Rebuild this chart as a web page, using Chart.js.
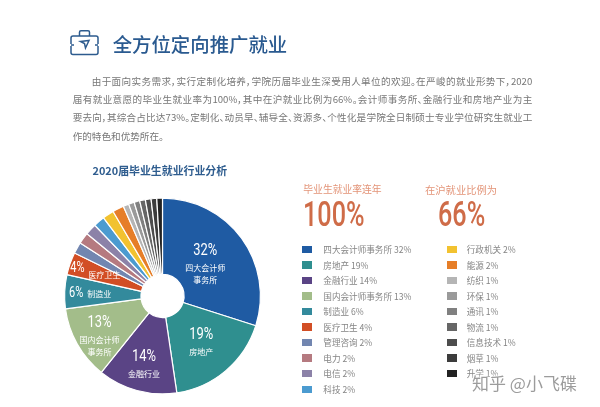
<!DOCTYPE html>
<html lang="zh">
<head>
<meta charset="utf-8">
<script src="https://cdn.jsdelivr.net/npm/chart.js@4/dist/chart.umd.min.js"></script>
<style>
  html, body { margin: 0; padding: 0; background: #fff; }
  body { width: 600px; height: 407px; overflow: hidden; position: relative; font-family: "Noto Sans CJK SC", sans-serif; }
  #pie-wrap { position: absolute; left: 0; top: 0; width: 600px; height: 407px; }
  .t { position: absolute; white-space: nowrap; line-height: 1; }
  .line { color: #777; font-size: 9.6px; font-feature-settings: "palt"; text-align: justify; text-align-last: justify; white-space: normal; }
  .big { color: #cf6c48; font-family: Roboto, sans-serif; font-weight: 500; font-size: 35px; transform: scaleX(.72); transform-origin: left center; }
  .small { color: #e39478; font-size: 9.8px; }
  .swatch { position: absolute; width: 10.8px; height: 7.5px; }
  .legend-text { color: #858585; font-size: 8.6px; }
  #mark { color: #9c9c9c; font-size: 17px; text-shadow: 0 0 2px #fff, 0 0 3px #fff, 0 0 4px #fff; }
</style>
</head>
<body>
<div id="pie-wrap"><canvas id="pie"></canvas></div>

<svg style="position:absolute;left:69px;top:29px" width="31" height="27" fill="none" stroke="#2d5b8e" stroke-width="1.5">
  <rect x="2" y="7" width="27" height="18.5" rx="2"/>
  <path d="M10.5 7V3.2a1.5 1.5 0 0 1 1.5-1.5h7a1.5 1.5 0 0 1 1.5 1.5V7"/>
  <path d="M1 16h4M26 16h4" stroke="#fff" stroke-width="2"/>
  <path d="M2 16h3M26 16h3"/>
  <path d="M11.5 12.5l8.5-1-3.5 7.5-1-4.5z"/>
</svg>
<div class="t" style="left:112.7px;top:34px;font-size:19.4px;font-weight:500;color:#2a5a90">全方位定向推广就业</div>

<div class="t line" style="left:91.7px;top:77px;width:440.6px">由于面向实务需求，实行定制化培养，学院历届毕业生深受用人单位的欢迎。在严峻的就业形势下，2020</div>
<div class="t line" style="left:72.7px;top:95.2px;width:459.6px">届有就业意愿的毕业生就业率为100%，其中在沪就业比例为66%。会计师事务所、金融行业和房地产业为主</div>
<div class="t line" style="left:72.7px;top:113.2px;width:459.6px">要去向，其综合占比达73%。定制化、动员早、辅导全、资源多、个性化是学院全日制硕士专业学位研究生就业工</div>
<div class="t line" style="left:72.7px;top:132px;font-feature-settings:normal;text-align-last:left;white-space:nowrap">作的特色和优势所在。</div>

<div class="t" style="left:92.5px;top:165px;font-size:10.9px;font-weight:700;color:#2f5d8f">2020届毕业生就业行业分析</div>

<div class="t small" style="left:303.3px;top:185.2px">毕业生就业率连年</div>
<div class="t small" style="left:425px;top:185.2px;font-size:10.3px">在沪就业比例为</div>
<div class="t big" style="left:303px;top:197px">100%</div>
<div class="t big" style="left:438px;top:197px">66%</div>

<div id="legend"></div>
<div class="t" id="mark" style="left:472px;top:374px">知乎 @小飞碟</div>

<script>
const categories = ['四大会计师事务所', '房地产', '金融行业', '国内会计师事务所', '制造业', '医疗卫生', '管理咨询', '电力', '电信', '科技', '行政机关', '能源', '纺织', '环保', '通讯', '物流', '信息技术', '烟草', '升学'];
const values = [32, 19, 14, 13, 6, 4, 2, 2, 2, 2, 2, 2, 1, 1, 1, 1, 1, 1, 1];
const colors = ['#1f5ba3', '#2f8f8f', '#5a4485', '#a3bd8a', '#338a9c', '#d24e25', '#7286b0', '#b57a80', '#8c82a8', '#4b9bd0', '#f2c230', '#e67e28', '#b5b5b5', '#9a9a9a', '#808080', '#666666', '#4d4d4d', '#3c3c3c', '#222222'];
const sliceNames = [['四大会计师', '事务所'], ['房地产'], ['金融行业'], ['国内会计师', '事务所'], ['制造业'], ['医疗卫生']];
const labelDist = [0.54, 0.61, 0.72, 0.74, 0.76, 0.77];
const labelShiftY = [1, 1, 1, 6, 1, 0];

// legend, two columns
const legend = document.getElementById('legend');
categories.forEach((name, i) => {
  const col = i < 10 ? 0 : 1;
  const row = i < 10 ? i : i - 10;
  const y = 249.3 + row * 15.55;
  legend.innerHTML += `<div class="swatch" style="left:${col ? 446.5 : 301.5}px;top:${y - 3.75}px;background:${colors[i]}"></div>` +
    `<div class="t legend-text" style="left:${col ? 466.7 : 323.3}px;top:${y - 4.3}px">${name} ${values[i]}%</div>`;
});

// percent and name inside the big slices
const sliceLabels = {
  id: 'sliceLabels',
  afterDatasetsDraw(chart) {
    const ctx = chart.ctx;
    const arcs = chart.getDatasetMeta(0).data;
    sliceNames.forEach((lines, i) => {
      const a = arcs[i];
      const mid = (a.startAngle + a.endAngle) / 2;
      const x = a.x + Math.cos(mid) * a.outerRadius * labelDist[i];
      const y = a.y + Math.sin(mid) * a.outerRadius * labelDist[i] + labelShiftY[i];
      ctx.save();
      ctx.fillStyle = '#fff';
      ctx.textAlign = 'center';
      ctx.textBaseline = 'middle';
      const pct = values[i] + '%';
      const pctSize = i < 4 ? 17 : 14.5;
      ctx.font = `${pctSize}px Roboto`;
      if (i >= 4) {
        // small slices: percent on the left, name beside it
        ctx.save();
        ctx.translate(x - (i === 4 ? 12 : 14), y + (i === 4 ? 0 : -3));
        ctx.scale(0.76, 1);
        ctx.fillText(pct, 0, 0);
        ctx.restore();
        ctx.font = '8px "Noto Sans CJK SC"';
        ctx.fillText(lines[0], x + (i === 4 ? 11 : 13), y + (i === 4 ? 0 : 4));
      } else {
        const top = y - (lines.length === 2 ? 15 : 8);
        ctx.save();
        ctx.translate(x, top);
        ctx.scale(0.76, 1);
        ctx.fillText(pct, 0, 0);
        ctx.restore();
        ctx.font = '8px "Noto Sans CJK SC"';
        lines.forEach((s, k) => ctx.fillText(s, x, top + 17 + k * 12));
      }
      ctx.restore();
    });
  }
};

new Chart(document.getElementById('pie'), {
  type: 'doughnut',
  data: {
    labels: categories,
    datasets: [{
      data: values,
      backgroundColor: colors,
      borderColor: '#fff',
      borderWidth: 1.2
    }]
  },
  options: {
    responsive: true,
    maintainAspectRatio: false,
    animation: false,
    cutout: '22%',
    layout: { padding: { left: 64, right: 339, top: 197, bottom: 12 } },
    plugins: { legend: { display: false }, tooltip: { enabled: false } }
  },
  plugins: [sliceLabels]
});
</script>
</body>
</html>
